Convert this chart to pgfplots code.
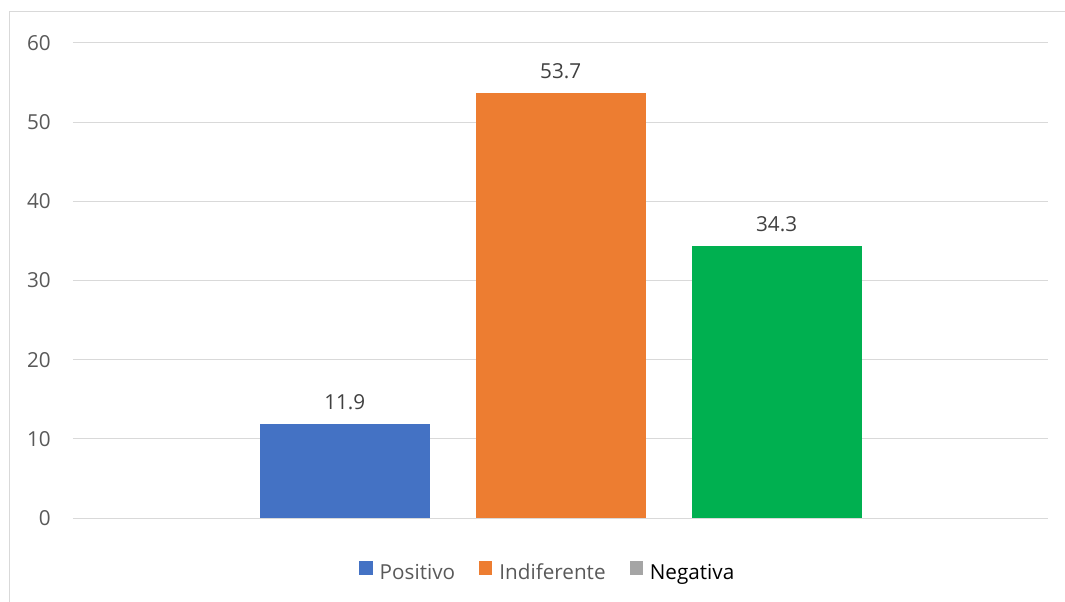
\documentclass[border=0pt]{standalone}
\usepackage{fontspec}
\setmainfont{Open Sans}
\usepackage{pgfplots}
\pgfplotsset{compat=1.18}
\definecolor{cblue}{HTML}{4472C4}
\definecolor{corange}{HTML}{ED7D31}
\definecolor{cgreen}{HTML}{00B050}
\definecolor{cgray}{HTML}{A5A5A5}
\definecolor{gridgray}{HTML}{D9D9D9}
\definecolor{textgray}{HTML}{595959}
\definecolor{labelgray}{HTML}{404040}
\begin{document}
\fontsize{15.5}{19}\selectfont
\begin{tikzpicture}
\useasboundingbox (0,0) rectangle (798.75pt,450.75pt);
\draw[gridgray, line width=0.75pt] (6.75pt,-2pt) -- (6.75pt,441.75pt) -- (800pt,441.75pt);
\begin{axis}[
  at={(54.75pt,62.25pt)}, anchor=south west,
  scale only axis, width=731.25pt, height=356.25pt,
  xmin=-0.259, xmax=4.257, ymin=0, ymax=60,
  ytick={0,10,...,60}, xtick=\empty,
  ymajorgrids, grid style={gridgray, line width=0.75pt},
  axis line style={draw=none},
  major tick length=0pt,
  tick label style={color=textgray},
  yticklabel style={inner sep=0pt, xshift=-16.5pt},
  /pgf/number format/assume math mode=true,
  nodes near coords,
  nodes near coords style={anchor=south, inner sep=0pt, yshift=10.5pt, color=labelgray},
  legend image code/.code={\fill[#1] (0pt,-1pt) rectangle (10pt,9pt);},
  legend style={at={(0.486,-0.114)}, anchor=center, draw=none, fill=none,
    legend columns=3, column sep=0pt, text=textgray,
    nodes={inner sep=0pt},
    /tikz/every odd column/.style={column sep=5.25pt},
    /tikz/every even column/.style={column sep=18pt}},
]
\addplot[ybar, bar width=0.787, bar shift=0pt, fill=cblue, draw=none, forget plot] coordinates {(1,11.9)};
\addplot[ybar, bar width=0.787, bar shift=0pt, fill=corange, draw=none, forget plot] coordinates {(2,53.7)};
\addplot[ybar, bar width=0.787, bar shift=0pt, fill=cgreen, draw=none, forget plot] coordinates {(3,34.3)};
\addlegendimage{fill=cblue, draw=none}
\addlegendentry{Positivo}
\addlegendimage{fill=corange, draw=none}
\addlegendentry{Indiferente}
\addlegendimage{fill=cgray, draw=none}
\addlegendentry{\textcolor{black}{Negativa}}
\end{axis}
\end{tikzpicture}
\end{document}
